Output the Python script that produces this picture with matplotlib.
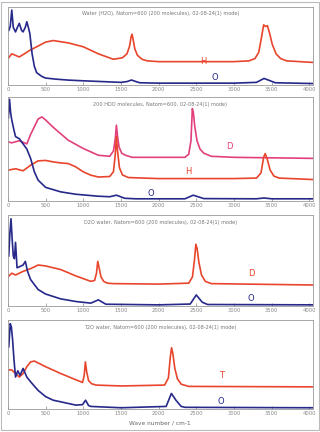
import matplotlib.pyplot as plt
from matplotlib.patches import Rectangle

# --- DATA (y in fraction of each panel height) ---
TITLES = [
    "Water (H2O), Natom=600 (200 molecules), 02-08-24(1) mode)",
    "200 HDO molecules, Natom=600, 02-08-24(1) mode)",
    "D2O water, Natom=600 (200 molecules), 02-08-24(1) mode)",
    "T2O water, Natom=600 (200 molecules), 02-08-24(1) mode)",
]
XTICKS = [0, 500, 1000, 1500, 2000, 2500, 3000, 3500, 4000]

# panel 1: H2O
p1_h_x = [0, 50, 150, 300, 500, 600, 800, 1000, 1200, 1400, 1520, 1580, 1615, 1635, 1648, 1662, 1685, 1720, 1780, 1850,
          2000, 2500, 3000, 3200, 3280, 3330, 3365, 3395, 3420, 3445, 3475, 3510, 3560, 3620, 3700, 4050]
p1_h_y = [0.34, 0.40, 0.36, 0.45, 0.55, 0.57, 0.54, 0.49, 0.40, 0.33, 0.35, 0.40, 0.50, 0.62, 0.65, 0.58, 0.46, 0.38, 0.33, 0.31,
          0.30, 0.30, 0.30, 0.31, 0.34, 0.42, 0.60, 0.77, 0.75, 0.76, 0.66, 0.52, 0.40, 0.34, 0.31, 0.29]
p1_o_x = [10, 30, 50, 70, 100, 130, 150, 180, 200, 230, 250, 270, 290, 320, 350, 380, 450, 500, 650, 800, 1000,
          1200, 1500, 1580, 1640, 1700, 1750, 2000, 3000, 3300, 3400, 3470, 3550, 4050]
p1_o_y = [0.70, 0.75, 0.96, 0.74, 0.68, 0.75, 0.79, 0.70, 0.68, 0.74, 0.81, 0.74, 0.66, 0.40, 0.24, 0.16, 0.11, 0.09, 0.075, 0.064, 0.055,
          0.047, 0.035, 0.045, 0.065, 0.045, 0.03, 0.025, 0.025, 0.035, 0.085, 0.06, 0.03, 0.02]

# panel 2: HDO
p2_d_x = [0, 50, 150, 250, 300, 400, 450, 500, 600, 800, 1000, 1200, 1350, 1400, 1425, 1440, 1455, 1475, 1510, 1560, 1650,
          2000, 2350, 2400, 2430, 2448, 2462, 2480, 2510, 2550, 2600, 2700, 3000, 4050]
p2_d_y = [0.57, 0.56, 0.58, 0.55, 0.64, 0.79, 0.81, 0.78, 0.71, 0.585, 0.505, 0.44, 0.43, 0.48, 0.60, 0.73, 0.62, 0.52, 0.46, 0.44, 0.42,
          0.42, 0.42, 0.45, 0.58, 0.89, 0.85, 0.72, 0.58, 0.50, 0.46, 0.43, 0.42, 0.41]
p2_h_x = [0, 100, 200, 300, 400, 500, 600, 700, 800, 900, 1000, 1100, 1200, 1350, 1400, 1425, 1440, 1455, 1480, 1520, 1600,
          2000, 3000, 3300, 3360, 3395, 3415, 3440, 3480, 3530, 3600, 4050]
p2_h_y = [0.296, 0.31, 0.29, 0.344, 0.386, 0.39, 0.376, 0.366, 0.36, 0.328, 0.28, 0.248, 0.23, 0.235, 0.28, 0.45, 0.62, 0.48, 0.32, 0.25, 0.225,
          0.215, 0.215, 0.22, 0.27, 0.42, 0.456, 0.41, 0.30, 0.24, 0.22, 0.206]
p2_o_x = [5, 20, 35, 50, 80, 100, 150, 200, 250, 300, 350, 400, 500, 700, 900, 1200, 1350, 1440, 1550, 1700,
          2350, 2460, 2600, 3300, 3400, 3500, 4050]
p2_o_y = [0.80, 0.98, 0.85, 0.78, 0.68, 0.62, 0.60, 0.55, 0.50, 0.41, 0.28, 0.20, 0.13, 0.087, 0.064, 0.045, 0.04, 0.055, 0.025, 0.02,
          0.02, 0.055, 0.022, 0.02, 0.028, 0.02, 0.02]

# panel 3: D2O
p3_d_x = [0, 50, 100, 200, 300, 400, 500, 700, 900, 1100, 1150, 1175, 1192, 1210, 1235, 1270, 1320, 1400,
          2000, 2400, 2450, 2478, 2495, 2512, 2535, 2570, 2620, 2700, 4050]
p3_d_y = [0.32, 0.36, 0.34, 0.38, 0.41, 0.45, 0.44, 0.40, 0.33, 0.27, 0.28, 0.36, 0.49, 0.42, 0.32, 0.27, 0.25, 0.245,
          0.24, 0.25, 0.32, 0.52, 0.68, 0.63, 0.48, 0.34, 0.27, 0.245, 0.23]
p3_o_x = [10, 25, 40, 55, 70, 85, 100, 120, 150, 200, 230, 260, 300, 400, 500, 700, 900, 1100, 1200, 1300,
          2000, 2420, 2500, 2580, 2650, 4050]
p3_o_y = [0.55, 0.80, 0.96, 0.74, 0.55, 0.52, 0.70, 0.42, 0.43, 0.45, 0.49, 0.38, 0.29, 0.18, 0.13, 0.077, 0.048, 0.03, 0.066, 0.018,
          0.011, 0.02, 0.12, 0.04, 0.015, 0.011]

# panel 4: T2O
p4_t_x = [0, 50, 100, 150, 200, 250, 300, 350, 500, 700, 900, 990, 1012, 1028, 1045, 1070, 1110, 1170,
          1500, 2080, 2130, 2155, 2172, 2190, 2215, 2250, 2300, 2400, 4050]
p4_t_y = [0.44, 0.44, 0.40, 0.36, 0.40, 0.476, 0.53, 0.54, 0.476, 0.40, 0.33, 0.30, 0.38, 0.53, 0.42, 0.32, 0.285, 0.27,
          0.26, 0.27, 0.35, 0.58, 0.69, 0.62, 0.46, 0.34, 0.28, 0.255, 0.25]
p4_o_x = [10, 30, 45, 60, 80, 100, 130, 160, 200, 250, 300, 400, 500, 600, 700, 900, 990, 1030, 1070, 1100,
          1500, 2100, 2170, 2230, 2300, 2350, 4050]
p4_o_y = [0.70, 0.96, 0.92, 0.79, 0.55, 0.36, 0.43, 0.38, 0.457, 0.36, 0.307, 0.21, 0.14, 0.10, 0.082, 0.045, 0.05, 0.10, 0.04, 0.03,
          0.015, 0.03, 0.176, 0.10, 0.03, 0.02, 0.015]

RED = '#e8452c'
BLUE = '#26288a'
PINK = '#e2407c'

PANELS = [
    {'curves': [(p1_h_x, p1_h_y, RED), (p1_o_x, p1_o_y, BLUE)],
     'labels': [('H', 2590, 0.30, RED), ('O', 2740, 0.10, BLUE)]},
    {'curves': [(p2_d_x, p2_d_y, PINK), (p2_h_x, p2_h_y, RED), (p2_o_x, p2_o_y, BLUE)],
     'labels': [('D', 2940, 0.52, PINK), ('H', 2390, 0.28, RED), ('O', 1900, 0.07, BLUE)]},
    {'curves': [(p3_d_x, p3_d_y, RED), (p3_o_x, p3_o_y, BLUE)],
     'labels': [('D', 3230, 0.36, RED), ('O', 3230, 0.085, BLUE)]},
    {'curves': [(p4_t_x, p4_t_y, RED), (p4_o_x, p4_o_y, BLUE)],
     'labels': [('T', 2830, 0.38, RED), ('O', 2830, 0.09, BLUE)]},
]

# axes rectangles (left, bottom, width, height) in figure fraction
BOXES = [
    (0.025, 0.803, 0.953, 0.181),
    (0.025, 0.535, 0.953, 0.240),
    (0.025, 0.292, 0.953, 0.210),
    (0.025, 0.053, 0.953, 0.206),
]

fig = plt.figure(figsize=(3.2, 4.32), dpi=100)
fig.patches.append(Rectangle((0.004, 0.004), 0.992, 0.992, transform=fig.transFigure,
                             fill=False, edgecolor='#bbbbbb', linewidth=0.8))

for box, panel, title in zip(BOXES, PANELS, TITLES):
    ax = fig.add_axes(box)
    for xs, ys, c in panel['curves']:
        ax.plot(xs, ys, color=c, linewidth=1.2, solid_joinstyle='round')
    for txt, lx, ly, c in panel['labels']:
        ax.text(lx, ly, txt, color=c, fontsize=6, ha='center', va='center')
    ax.text(0.5, 0.95, title, transform=ax.transAxes, ha='center', va='top',
            fontsize=3.6, color='#777777')
    ax.set_xlim(0, 4050)
    ax.set_ylim(0, 1)
    ax.set_yticks([])
    ax.set_xticks(XTICKS)
    ax.set_xticklabels([str(t) for t in XTICKS])
    ax.tick_params(axis='x', direction='in', length=2, width=0.5, pad=1.5,
                   labelsize=3.8, colors='#888888', top=False)
    for s in ax.spines.values():
        s.set_color('#999999')
        s.set_linewidth(0.6)

fig.text(0.5, 0.021, "Wave number / cm-1", ha='center', va='center', fontsize=4.2, color='#666666')

fig.savefig('out.png', dpi=100)
